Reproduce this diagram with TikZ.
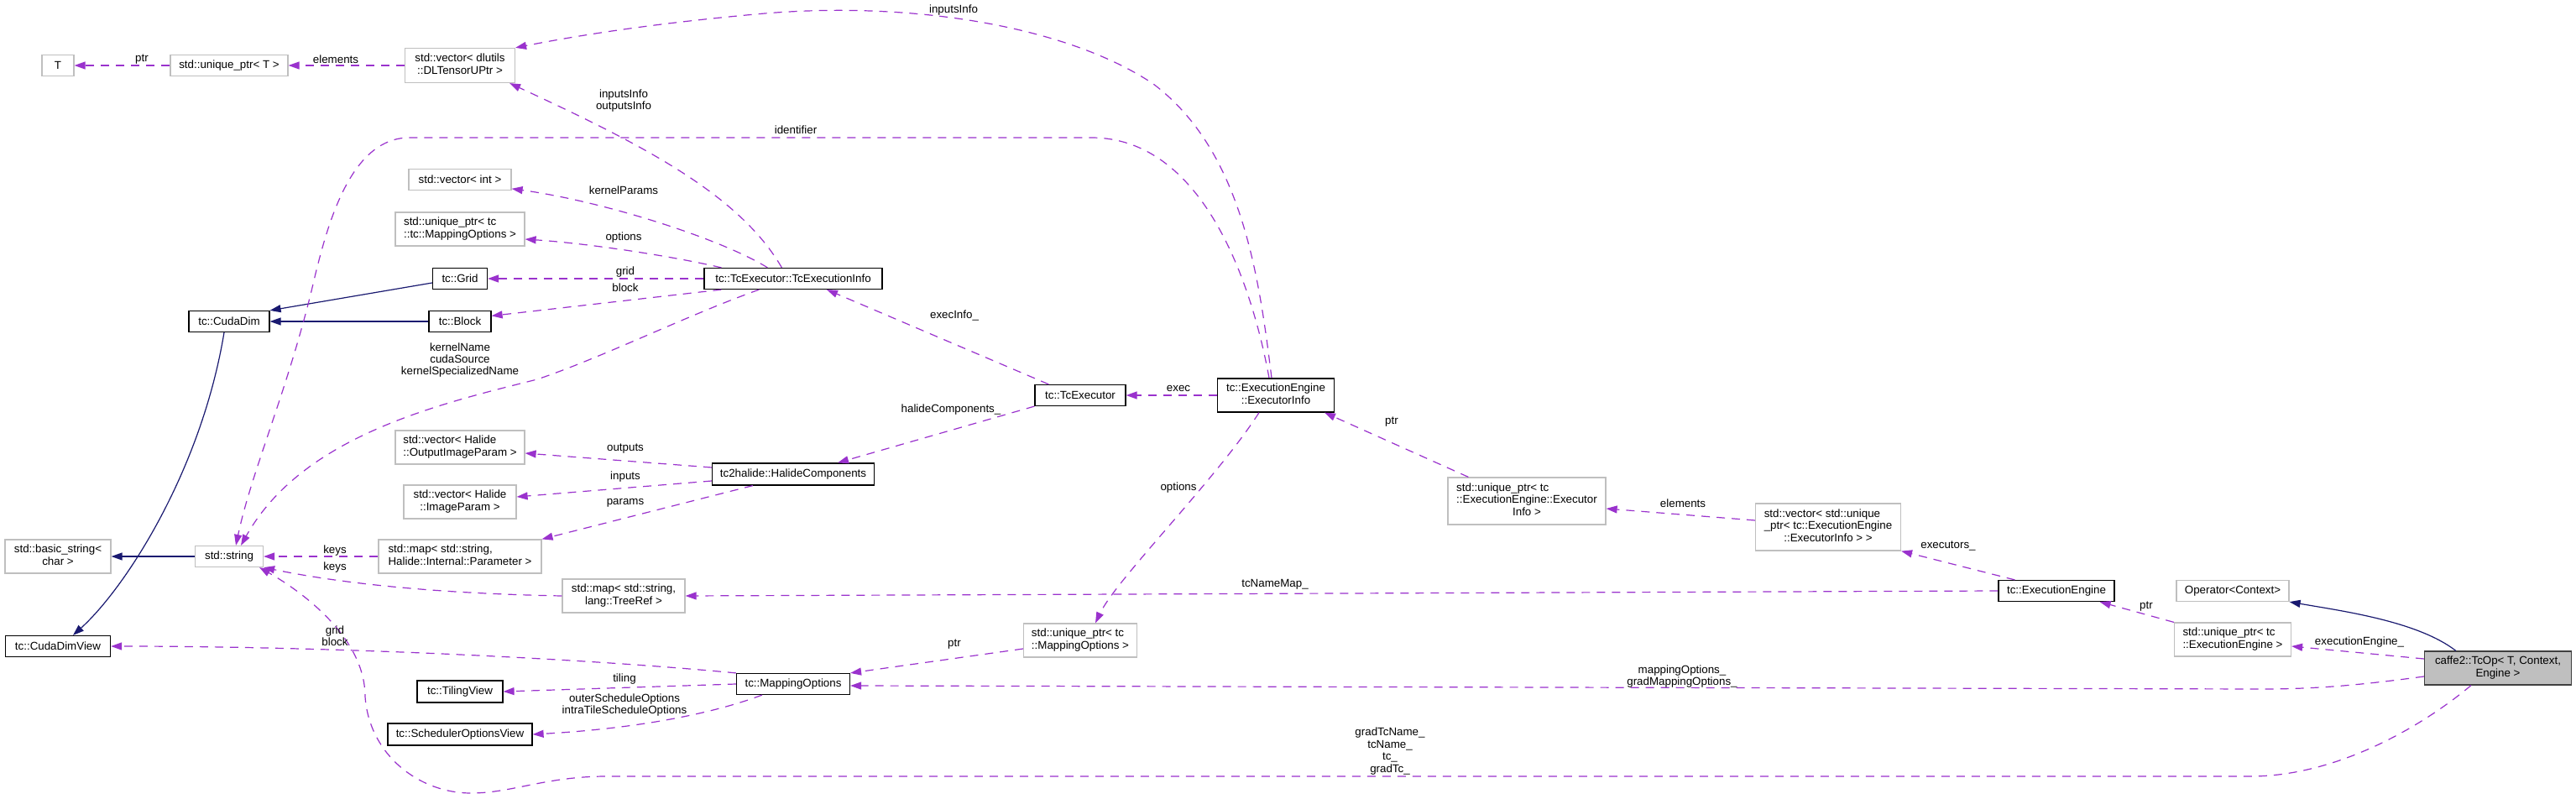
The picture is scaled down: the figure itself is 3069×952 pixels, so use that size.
\documentclass[tikz,border=0pt]{standalone}
\usepackage{fontspec}
\setmainfont{Liberation Sans}
\usepackage{tikz}
\usetikzlibrary{calc,arrows.meta}
\definecolor{usecol}{HTML}{9A32CD}
\definecolor{inhcol}{HTML}{191970}
\definecolor{extline}{HTML}{BFBFBF}
\definecolor{focusfill}{HTML}{BFBFBF}
\newcommand{\dgfont}{\fontsize{6.67}{7.2}\selectfont}
\newcommand{\dxlab}[1]{\begin{tabular}{@{}l@{}}#1\end{tabular}}
\newcommand{\dxlast}[1]{\multicolumn{1}{@{}c@{}}{#1}}

\begin{document}
\begin{tikzpicture}[x=0.5pt, y=-0.5pt,
      cls/.style={draw=black, line width=0.6pt, fill=white, font=\dgfont, inner sep=0pt},
      ext/.style={draw=extline, line width=0.6pt, fill=white, font=\dgfont, inner sep=0pt},
      focus/.style={draw=black!75, line width=0.6pt, fill=focusfill, font=\dgfont, inner sep=0pt},
      boxsz/.style 2 args={minimum width=#1*0.5pt, minimum height=#2*0.5pt},
      usage/.style={draw=usecol, line width=0.6pt, dash pattern=on 5pt off 4pt,
                    -{Triangle[length=6.5pt, width=4.5pt]}},
      inh/.style={draw=inhcol, line width=0.6pt, -{Triangle[length=6.5pt, width=4.5pt]}},
      lbl/.style={font=\dgfont, align=center, inner sep=0pt}]

    \path[use as bounding box, fill=white] (0,0) rectangle (3069,952);

    % documented classes
    \foreach \nm/\px/\py/\bw/\bh/\txt in {
        nGrid/548/332/65/25/{tc::Grid},
        nBlock/548/383/74/25/{tc::Block},
        nCudaDim/273/383/96/25/{tc::CudaDim},
        nTEI/945/332/212/25/{tc::TcExecutor::TcExecutionInfo},
        nHalide/945/565/193/26/{tc2halide::HalideComponents},
        nTcEx/1287/471/108/25/{tc::TcExecutor},
        nExInfo/1520/471/139/40/{\dxlab{tc::ExecutionEngine\\\dxlast{::ExecutorInfo}}},
        nCDV/69/770/125/25/{tc::CudaDimView},
        nTiling/548/824/102/26/{tc::TilingView},
        nSched/548/875/172/26/{tc::SchedulerOptionsView},
        nMO/945/815/135/25/{tc::MappingOptions},
        nEE/2450/704/138/25/{tc::ExecutionEngine}}
    {
      \node[cls, boxsz={\bw}{\bh}] (\nm) at (\px,\py) {\txt};
    }

    % external types
    \foreach \nm/\px/\py/\bw/\bh/\txt in {
        nT/69/78/38/25/{T},
        nUPT/273/78/140/25/{std::unique\_ptr< T >},
        nVecDL/548/78/131/41/{\dxlab{std::vector< dlutils\\\dxlast{::DLTensorUPtr >}}},
        nVecInt/548/214/122/25/{std::vector< int >},
        nUPMO1/548/273/154/40/{\dxlab{std::unique\_ptr< tc\\\dxlast{::tc::MappingOptions >}}},
        nOutImg/548/533/154/40/{\dxlab{std::vector< Halide\\\dxlast{::OutputImageParam >}}},
        nImg/548/598/134/40/{\dxlab{std::vector< Halide\\\dxlast{::ImageParam >}}},
        nMapParam/548/663/194/40/{\dxlab{std::map< std::string,\\\dxlast{Halide::Internal::Parameter >}}},
        nString/273/663/81/25/{std::string},
        nBasic/69/663/126/40/{\dxlab{std::basic\_string<\\\dxlast{char >}}},
        nMapTree/743/710/146/40/{\dxlab{std::map< std::string,\\\dxlast{lang::TreeRef >}}},
        nUPMO2/1287/763/135/40/{\dxlab{std::unique\_ptr< tc\\\dxlast{::MappingOptions >}}},
        nUPEI/1819/597/188/56/{\dxlab{std::unique\_ptr< tc\\::ExecutionEngine::Executor\\\dxlast{Info >}}},
        nVecEI/2178/628/173/56/{\dxlab{std::vector< std::unique\\\_ptr< tc::ExecutionEngine\\\dxlast{::ExecutorInfo > >}}},
        nOp/2660/704/134/25/{Operator<Context>},
        nUPEE/2660/762/139/40/{\dxlab{std::unique\_ptr< tc\\\dxlast{::ExecutionEngine >}}}}
    {
      \node[ext, boxsz={\bw}{\bh}] (\nm) at (\px,\py) {\txt};
    }

    \node[focus, boxsz={175}{40}] (nTcOp) at (2976,796)
      {\dxlab{caffe2::TcOp< T, Context,\\\dxlast{Engine >}}};

    % inheritance
    \draw[inh] ($(nGrid.west)+(0,5)$) -- (nCudaDim.north east);
    \draw[inh] (nBlock) -- (nCudaDim);
    \draw[inh] ($(nCudaDim.south)+(-6,0)$) .. controls (240,560) and (150,700) .. ($(nCDV.north)+(18,0)$);
    \draw[inh] (nString) -- (nBasic);
    \draw[inh] ($(nTcOp.north west)+(38,0)$) .. controls (2880,740) and (2790,728) .. (nOp.south east);

    % members
    \draw[usage] (nUPT) -- (nT);
    \draw[usage] (nVecDL) -- (nUPT);
    \draw[usage] ($(nExInfo.north)+(-5,0)$) .. controls (1500,330) and (1480,180) .. (1374,100)
      .. controls (1270,30) and (1080,0) .. (900,17)
      .. controls (790,27) and (700,40) .. (nVecDL.north east);
    \draw[usage] ($(nExInfo.north)+(-8,0)$) .. controls (1490,330) and (1430,164) .. (1300,164)
      -- (488,164) .. controls (420,164) and (392,260) .. (375,330)
      .. controls (345,460) and (300,560) .. ($(nString.north)+(8,0)$);
    \draw[usage] ($(nTEI.north west)+(93,0)$) .. controls (880,230) and (760,170) .. ($(nVecDL.south east)+(-7,0)$);
    \draw[usage] ($(nTEI.north west)+(76,0)$) .. controls (860,285) and (720,240) .. (nVecInt.-10);
    \draw[usage] ($(nTEI.north west)+(21,0)$) .. controls (800,305) and (700,290) .. ($(nUPMO1.east)+(0,12)$);
    \draw[usage] (nTEI) -- (nGrid);
    \draw[usage] ($(nTEI.south west)+(21,0)$) -- (nBlock.10);
    \draw[usage] ($(nTEI.south west)+(66,0)$) .. controls (820,375) and (720,425) .. (640,452)
      .. controls (520,482) and (360,520) .. ($(nString.north)+(14,0)$);
    \draw[usage] ($(nTcEx.north west)+(17,0)$) -- ($(nTEI.south)+(40,0)$);
    \draw[usage] (nTcEx.south west) -- ($(nHalide.north)+(53,0)$);
    \draw[usage] (nExInfo) -- (nTcEx);
    \draw[usage] ($(nExInfo.south)+(-20,0)$) .. controls (1450,570) and (1330,690) .. ($(nUPMO2.north)+(18,0)$);
    \draw[usage] ($(nHalide.west)+(0,-8)$) -- ($(nOutImg.east)+(0,7)$);
    \draw[usage] ($(nHalide.west)+(0,8)$) -- ($(nImg.east)+(0,-6)$);
    \draw[usage] ($(nHalide.south west)+(49,0)$) -- (nMapParam.north east);
    \draw[usage] (nMapParam) -- (nString);
    \draw[usage] (nMapTree.west) .. controls (560,708) and (430,700) .. (nString.south east);
    \draw[usage] ($(nUPEI.north west)+(25,0)$) -- ($(nExInfo.south)+(58,0)$);
    \draw[usage] ($(nVecEI.west)+(0,-8)$) -- ($(nUPEI.east)+(0,9)$);
    \draw[usage] ($(nEE.north west)+(20,0)$) -- (nVecEI.south east);
    \draw[usage] (nEE.west) -- (nMapTree.east);
    \draw[usage] (nUPEE.north west) -- ($(nEE.south east)+(-18,0)$);
    \draw[usage] ($(nTcOp.west)+(0,-11)$) -- ($(nUPEE.east)+(0,8)$);
    \draw[usage] ($(nTcOp.west)+(0,10)$) .. controls (2800,818) and (2750,821) .. (2693,821)
      -- ($(nMO.east)+(0,2)$);
    \draw[usage] ($(nUPMO2.west)+(0,10)$) -- (nMO.north east);
    \draw[usage] ($(nTcOp.south)+(-32,0)$) .. controls (2880,870) and (2780,925) .. (2681,925)
      -- (723,925) .. controls (650,925) and (610,945) .. (561,945)
      .. controls (500,945) and (440,900) .. (435,830)
      .. controls (435,760) and (360,705) .. ($(nString.south)+(36,0)$);
    \draw[usage] (nMO.north west) .. controls (700,785) and (400,770) .. (nCDV.east);
    \draw[usage] (nMO.west) -- (nTiling.east);
    \draw[usage] ($(nMO.south west)+(31,0)$) .. controls (850,850) and (760,868) .. (nSched.east);

    % edge labels
    \foreach \nm/\px/\py/\txt in {
        lPtrT/169/71/{ptr},
        lElemDL/400/71/{elements},
        lInInfo/1136/12/{inputsInfo},
        lIdent/948/155/{identifier},
        lInOut/743/120/{inputsInfo\\outputsInfo},
        lKernP/743/227/{kernelParams},
        lOpt1/743/283/{options},
        lGrid/745/324/{grid},
        lBlock/745/343/{block},
        lKName/548/429/{kernelName\\cudaSource\\kernelSpecializedName},
        lKeys1/399/656/{keys},
        lKeys2/399/676/{keys},
        lOutputs/745/535/{outputs},
        lInputs/745/568/{inputs},
        lParams/745/599/{params},
        lExecInfo/1137/376/{execInfo\_},
        lHalComp/1133/488/{halideComponents\_},
        lExec/1404/463/{exec},
        lOpt2/1404/581/{options},
        lPtrEI/1658/503/{ptr},
        lElemEI/2005/600/{elements},
        lExecs/2321/651/{executors\_},
        lNameMap/1519/696/{tcNameMap\_},
        lPtrEE/2557/723/{ptr},
        lEngine/2811/765/{executionEngine\_},
        lMapOpt/2004/806/{mappingOptions\_\\gradMappingOptions\_},
        lPtrMO/1137/768/{ptr},
        lGradTc/1656/895/{gradTcName\_\\tcName\_\\tc\_\\gradTc\_},
        lGridBlk/399/758/{grid\\block},
        lTiling/744/809/{tiling},
        lSched/744/840/{outerScheduleOptions\\intraTileScheduleOptions}}
    {
      \node[lbl] (\nm) at (\px,\py) {\txt};
    }
  \end{tikzpicture}
\end{document}
